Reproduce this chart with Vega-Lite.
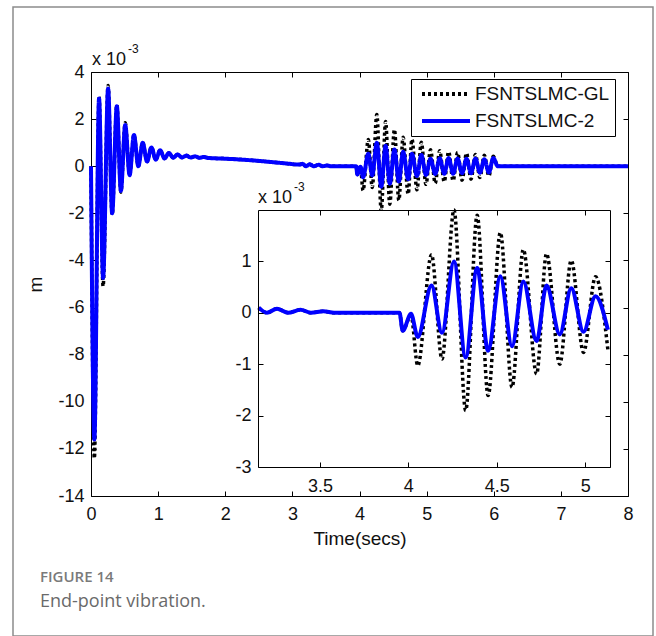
{
  "$schema": "https://vega.github.io/schema/vega-lite/v6.json",
  "width": 640,
  "height": 629,
  "autosize": {"type": "none"},
  "padding": {"left": 13, "top": 7, "right": 3, "bottom": 0},
  "background": "white",
  "config": {
    "view": {"stroke": "#8c8c8c", "strokeWidth": 1.5},
    "font": "Arial, Liberation Sans, sans-serif",
    "axis": {
      "grid": false,
      "domainColor": "#000000",
      "domainWidth": 1,
      "tickColor": "#000000",
      "tickWidth": 1,
      "tickSize": -5,
      "labelColor": "#111111",
      "labelFont": "Arial, Liberation Sans, sans-serif",
      "labelFontSize": 18,
      "labelFlush": false,
      "labelOverlap": false,
      "labelExpr": "'' + datum.value",
      "titleFont": "Arial, Liberation Sans, sans-serif",
      "titleFontSize": 19,
      "titleFontWeight": "normal",
      "titleColor": "#111111"
    },
    "legend": {
      "orient": "none",
      "legendX": 398,
      "legendY": 72,
      "title": null,
      "fillColor": "white",
      "strokeColor": "#000000",
      "padding": 5,
      "symbolType": "M-0.5,0H5.5",
      "symbolSize": 256,
      "symbolStrokeWidth": 4,
      "labelFont": "Arial, Liberation Sans, sans-serif",
      "labelFontSize": 19,
      "labelColor": "#111111",
      "labelOffset": 39,
      "rowPadding": 7
    }
  },
  "title": {
    "text": "FIGURE 14",
    "subtitle": "End-point vibration.",
    "orient": "bottom",
    "anchor": "start",
    "frame": "group",
    "offset": -66,
    "dx": 27,
    "font": "Open Sans",
    "fontSize": 15,
    "fontWeight": 600,
    "color": "#7a7a7a",
    "subtitleFont": "Open Sans",
    "subtitleFontSize": 18,
    "subtitleColor": "#6a6a6a",
    "subtitlePadding": 8
  },
  "data": {
    "values": [
      {"s": "FSNTSLMC-GL", "t": 0, "v": 0},
      {"s": "FSNTSLMC-GL", "t": 0.05, "v": -12.4},
      {"s": "FSNTSLMC-GL", "t": 0.12, "v": 2.95},
      {"s": "FSNTSLMC-GL", "t": 0.18, "v": -5.1},
      {"s": "FSNTSLMC-GL", "t": 0.255, "v": 3.43},
      {"s": "FSNTSLMC-GL", "t": 0.315, "v": -2.05},
      {"s": "FSNTSLMC-GL", "t": 0.385, "v": 2.6},
      {"s": "FSNTSLMC-GL", "t": 0.445, "v": -1.1},
      {"s": "FSNTSLMC-GL", "t": 0.51, "v": 1.85},
      {"s": "FSNTSLMC-GL", "t": 0.575, "v": -0.38},
      {"s": "FSNTSLMC-GL", "t": 0.64, "v": 1.33},
      {"s": "FSNTSLMC-GL", "t": 0.705, "v": 0.0},
      {"s": "FSNTSLMC-GL", "t": 0.77, "v": 1.0},
      {"s": "FSNTSLMC-GL", "t": 0.835, "v": 0.2},
      {"s": "FSNTSLMC-GL", "t": 0.9, "v": 0.8},
      {"s": "FSNTSLMC-GL", "t": 0.965, "v": 0.28},
      {"s": "FSNTSLMC-GL", "t": 1.03, "v": 0.68},
      {"s": "FSNTSLMC-GL", "t": 1.095, "v": 0.33},
      {"s": "FSNTSLMC-GL", "t": 1.16, "v": 0.56},
      {"s": "FSNTSLMC-GL", "t": 1.225, "v": 0.36},
      {"s": "FSNTSLMC-GL", "t": 1.29, "v": 0.5},
      {"s": "FSNTSLMC-GL", "t": 1.355, "v": 0.37},
      {"s": "FSNTSLMC-GL", "t": 1.42, "v": 0.45},
      {"s": "FSNTSLMC-GL", "t": 1.485, "v": 0.37},
      {"s": "FSNTSLMC-GL", "t": 1.55, "v": 0.42},
      {"s": "FSNTSLMC-GL", "t": 1.615, "v": 0.36},
      {"s": "FSNTSLMC-GL", "t": 1.68, "v": 0.39},
      {"s": "FSNTSLMC-GL", "t": 1.75, "v": 0.35},
      {"s": "FSNTSLMC-GL", "t": 2.0, "v": 0.32},
      {"s": "FSNTSLMC-GL", "t": 2.3, "v": 0.27},
      {"s": "FSNTSLMC-GL", "t": 2.6, "v": 0.2},
      {"s": "FSNTSLMC-GL", "t": 2.9, "v": 0.12},
      {"s": "FSNTSLMC-GL", "t": 3.1, "v": 0.07},
      {"s": "FSNTSLMC-GL", "t": 3.154, "v": 0.1},
      {"s": "FSNTSLMC-GL", "t": 3.2, "v": 0.0},
      {"s": "FSNTSLMC-GL", "t": 3.257, "v": 0.08},
      {"s": "FSNTSLMC-GL", "t": 3.32, "v": 0.0},
      {"s": "FSNTSLMC-GL", "t": 3.39, "v": 0.06},
      {"s": "FSNTSLMC-GL", "t": 3.45, "v": 0.0},
      {"s": "FSNTSLMC-GL", "t": 3.52, "v": 0.03},
      {"s": "FSNTSLMC-GL", "t": 3.58, "v": 0.0},
      {"s": "FSNTSLMC-GL", "t": 3.95, "v": 0.0},
      {"s": "FSNTSLMC-GL", "t": 3.968, "v": -0.35},
      {"s": "FSNTSLMC-GL", "t": 4.015, "v": -0.05},
      {"s": "FSNTSLMC-GL", "t": 4.053, "v": -1.03},
      {"s": "FSNTSLMC-GL", "t": 4.131, "v": 1.13},
      {"s": "FSNTSLMC-GL", "t": 4.19, "v": -0.9},
      {"s": "FSNTSLMC-GL", "t": 4.258, "v": 2.2},
      {"s": "FSNTSLMC-GL", "t": 4.324, "v": -1.9},
      {"s": "FSNTSLMC-GL", "t": 4.389, "v": 1.9},
      {"s": "FSNTSLMC-GL", "t": 4.451, "v": -1.61},
      {"s": "FSNTSLMC-GL", "t": 4.52, "v": 1.56},
      {"s": "FSNTSLMC-GL", "t": 4.586, "v": -1.45},
      {"s": "FSNTSLMC-GL", "t": 4.65, "v": 1.23},
      {"s": "FSNTSLMC-GL", "t": 4.725, "v": -1.19},
      {"s": "FSNTSLMC-GL", "t": 4.781, "v": 1.15},
      {"s": "FSNTSLMC-GL", "t": 4.856, "v": -1.0},
      {"s": "FSNTSLMC-GL", "t": 4.921, "v": 1.02},
      {"s": "FSNTSLMC-GL", "t": 4.99, "v": -0.77},
      {"s": "FSNTSLMC-GL", "t": 5.058, "v": 0.7},
      {"s": "FSNTSLMC-GL", "t": 5.128, "v": -0.72},
      {"s": "FSNTSLMC-GL", "t": 5.195, "v": 0.66},
      {"s": "FSNTSLMC-GL", "t": 5.262, "v": -0.66},
      {"s": "FSNTSLMC-GL", "t": 5.328, "v": 0.62},
      {"s": "FSNTSLMC-GL", "t": 5.395, "v": -0.62},
      {"s": "FSNTSLMC-GL", "t": 5.461, "v": 0.58},
      {"s": "FSNTSLMC-GL", "t": 5.528, "v": -0.6},
      {"s": "FSNTSLMC-GL", "t": 5.594, "v": 0.55},
      {"s": "FSNTSLMC-GL", "t": 5.661, "v": -0.55},
      {"s": "FSNTSLMC-GL", "t": 5.727, "v": 0.5},
      {"s": "FSNTSLMC-GL", "t": 5.794, "v": -0.48},
      {"s": "FSNTSLMC-GL", "t": 5.86, "v": 0.47},
      {"s": "FSNTSLMC-GL", "t": 5.927, "v": -0.42},
      {"s": "FSNTSLMC-GL", "t": 5.993, "v": 0.42},
      {"s": "FSNTSLMC-GL", "t": 6.06, "v": 0.0},
      {"s": "FSNTSLMC-GL", "t": 8.0, "v": 0.0},
      {"s": "FSNTSLMC-2", "t": 0, "v": 0},
      {"s": "FSNTSLMC-2", "t": 0.05, "v": -11.6},
      {"s": "FSNTSLMC-2", "t": 0.12, "v": 2.88},
      {"s": "FSNTSLMC-2", "t": 0.18, "v": -4.75},
      {"s": "FSNTSLMC-2", "t": 0.255, "v": 3.3},
      {"s": "FSNTSLMC-2", "t": 0.315, "v": -2.0},
      {"s": "FSNTSLMC-2", "t": 0.385, "v": 2.55},
      {"s": "FSNTSLMC-2", "t": 0.445, "v": -1.05},
      {"s": "FSNTSLMC-2", "t": 0.51, "v": 1.75},
      {"s": "FSNTSLMC-2", "t": 0.575, "v": -0.38},
      {"s": "FSNTSLMC-2", "t": 0.64, "v": 1.33},
      {"s": "FSNTSLMC-2", "t": 0.705, "v": 0.0},
      {"s": "FSNTSLMC-2", "t": 0.77, "v": 1.0},
      {"s": "FSNTSLMC-2", "t": 0.835, "v": 0.2},
      {"s": "FSNTSLMC-2", "t": 0.9, "v": 0.8},
      {"s": "FSNTSLMC-2", "t": 0.965, "v": 0.28},
      {"s": "FSNTSLMC-2", "t": 1.03, "v": 0.68},
      {"s": "FSNTSLMC-2", "t": 1.095, "v": 0.33},
      {"s": "FSNTSLMC-2", "t": 1.16, "v": 0.56},
      {"s": "FSNTSLMC-2", "t": 1.225, "v": 0.36},
      {"s": "FSNTSLMC-2", "t": 1.29, "v": 0.5},
      {"s": "FSNTSLMC-2", "t": 1.355, "v": 0.37},
      {"s": "FSNTSLMC-2", "t": 1.42, "v": 0.45},
      {"s": "FSNTSLMC-2", "t": 1.485, "v": 0.37},
      {"s": "FSNTSLMC-2", "t": 1.55, "v": 0.42},
      {"s": "FSNTSLMC-2", "t": 1.615, "v": 0.36},
      {"s": "FSNTSLMC-2", "t": 1.68, "v": 0.39},
      {"s": "FSNTSLMC-2", "t": 1.75, "v": 0.35},
      {"s": "FSNTSLMC-2", "t": 2.0, "v": 0.32},
      {"s": "FSNTSLMC-2", "t": 2.3, "v": 0.27},
      {"s": "FSNTSLMC-2", "t": 2.6, "v": 0.2},
      {"s": "FSNTSLMC-2", "t": 2.9, "v": 0.12},
      {"s": "FSNTSLMC-2", "t": 3.1, "v": 0.07},
      {"s": "FSNTSLMC-2", "t": 3.154, "v": 0.1},
      {"s": "FSNTSLMC-2", "t": 3.2, "v": 0.0},
      {"s": "FSNTSLMC-2", "t": 3.257, "v": 0.08},
      {"s": "FSNTSLMC-2", "t": 3.32, "v": 0.0},
      {"s": "FSNTSLMC-2", "t": 3.39, "v": 0.06},
      {"s": "FSNTSLMC-2", "t": 3.45, "v": 0.0},
      {"s": "FSNTSLMC-2", "t": 3.52, "v": 0.03},
      {"s": "FSNTSLMC-2", "t": 3.58, "v": 0.0},
      {"s": "FSNTSLMC-2", "t": 3.95, "v": 0.0},
      {"s": "FSNTSLMC-2", "t": 3.968, "v": -0.35},
      {"s": "FSNTSLMC-2", "t": 4.015, "v": -0.02},
      {"s": "FSNTSLMC-2", "t": 4.053, "v": -0.47},
      {"s": "FSNTSLMC-2", "t": 4.131, "v": 0.53},
      {"s": "FSNTSLMC-2", "t": 4.19, "v": -0.39},
      {"s": "FSNTSLMC-2", "t": 4.258, "v": 1.0},
      {"s": "FSNTSLMC-2", "t": 4.324, "v": -0.87},
      {"s": "FSNTSLMC-2", "t": 4.389, "v": 0.87},
      {"s": "FSNTSLMC-2", "t": 4.451, "v": -0.74},
      {"s": "FSNTSLMC-2", "t": 4.52, "v": 0.71},
      {"s": "FSNTSLMC-2", "t": 4.586, "v": -0.65},
      {"s": "FSNTSLMC-2", "t": 4.65, "v": 0.61},
      {"s": "FSNTSLMC-2", "t": 4.725, "v": -0.55},
      {"s": "FSNTSLMC-2", "t": 4.781, "v": 0.53},
      {"s": "FSNTSLMC-2", "t": 4.856, "v": -0.42},
      {"s": "FSNTSLMC-2", "t": 4.921, "v": 0.48},
      {"s": "FSNTSLMC-2", "t": 4.99, "v": -0.37},
      {"s": "FSNTSLMC-2", "t": 5.058, "v": 0.32},
      {"s": "FSNTSLMC-2", "t": 5.128, "v": -0.33},
      {"s": "FSNTSLMC-2", "t": 5.195, "v": 0.34},
      {"s": "FSNTSLMC-2", "t": 5.262, "v": -0.32},
      {"s": "FSNTSLMC-2", "t": 5.328, "v": 0.35},
      {"s": "FSNTSLMC-2", "t": 5.395, "v": -0.32},
      {"s": "FSNTSLMC-2", "t": 5.461, "v": 0.33},
      {"s": "FSNTSLMC-2", "t": 5.528, "v": -0.3},
      {"s": "FSNTSLMC-2", "t": 5.594, "v": 0.32},
      {"s": "FSNTSLMC-2", "t": 5.661, "v": -0.3},
      {"s": "FSNTSLMC-2", "t": 5.727, "v": 0.33},
      {"s": "FSNTSLMC-2", "t": 5.794, "v": -0.28},
      {"s": "FSNTSLMC-2", "t": 5.86, "v": 0.3},
      {"s": "FSNTSLMC-2", "t": 5.927, "v": -0.27},
      {"s": "FSNTSLMC-2", "t": 5.993, "v": 0.35},
      {"s": "FSNTSLMC-2", "t": 6.06, "v": 0.0},
      {"s": "FSNTSLMC-2", "t": 8.0, "v": 0.0}
    ]
  },
  "layer": [
    {
      "layer": [
        {
          "transform": [{"filter": {"field": "s", "equal": "FSNTSLMC-GL"}}],
          "mark": {"type": "line", "interpolate": "monotone", "strokeWidth": 3.5},
          "encoding": {
            "x": {"field": "t", "type": "quantitative",
              "scale": {"domain": [0, 8], "range": [78, 615], "nice": false, "zero": false},
              "axis": {"orient": "bottom", "offset": -140, "values": [0, 1, 2, 3, 4, 5, 6, 7, 8], "labelPadding": 14, "title": "Time(secs)", "titlePadding": 6}},
            "y": {"field": "v", "type": "quantitative",
              "scale": {"domain": [-14, 4], "range": [489, 65], "nice": false, "zero": false},
              "axis": {"orient": "left", "offset": -78, "values": [-14, -12, -10, -8, -6, -4, -2, 0, 2, 4], "labelPadding": 12, "title": "m", "titlePadding": 12}},
            "color": {"field": "s", "type": "nominal",
              "scale": {"domain": ["FSNTSLMC-GL", "FSNTSLMC-2"], "range": ["#000000", "#0000ff"]}},
            "strokeDash": {"field": "s", "type": "nominal",
              "scale": {"domain": ["FSNTSLMC-GL", "FSNTSLMC-2"], "range": [[3, 3], [1, 0]]}}
          }
        },
        {
          "transform": [{"filter": {"field": "s", "equal": "FSNTSLMC-2"}}],
          "mark": {"type": "line", "interpolate": "monotone", "strokeWidth": 4},
          "encoding": {
            "x": {"field": "t", "type": "quantitative"},
            "y": {"field": "v", "type": "quantitative"},
            "color": {"field": "s", "type": "nominal"},
            "strokeDash": {"field": "s", "type": "nominal"}
          }
        },
        {
          "data": {"values": [{"label": "x 10"}]},
          "mark": {"type": "text", "align": "left", "baseline": "alphabetic", "dx": 1, "dy": -7, "fontSize": 18, "color": "#111111", "font": "Arial, Liberation Sans, sans-serif"},
          "encoding": {
            "x": {"datum": 0, "type": "quantitative"},
            "y": {"datum": 4, "type": "quantitative"},
            "text": {"field": "label"}
          }
        },
        {
          "data": {"values": [{"label": "-3"}]},
          "mark": {"type": "text", "align": "left", "baseline": "alphabetic", "dx": 37, "dy": -19, "fontSize": 12, "color": "#111111", "font": "Arial, Liberation Sans, sans-serif"},
          "encoding": {
            "x": {"datum": 0, "type": "quantitative"},
            "y": {"datum": 4, "type": "quantitative"},
            "text": {"field": "label"}
          }
        }
      ]
    },
    {
      "mark": {"type": "point", "opacity": 0},
      "encoding": {
        "x": {"field": "t", "type": "quantitative",
          "scale": {"domain": [0, 8], "range": [78, 615], "nice": false, "zero": false},
          "axis": {"orient": "top", "offset": -65, "values": [0, 1, 2, 3, 4, 5, 6, 7, 8], "labels": false, "title": null}},
        "y": {"field": "v", "type": "quantitative",
          "scale": {"domain": [-14, 4], "range": [489, 65], "nice": false, "zero": false},
          "axis": {"orient": "right", "offset": -25, "values": [-14, -12, -10, -8, -6, -4, -2, 0, 2, 4], "labels": false, "title": null}}
      }
    },
    {
      "layer": [
        {
          "data": {"values": [{"x1": 3.15, "x2": 5.14, "y1": -3, "y2": 2}]},
          "mark": {"type": "rect", "color": "white"},
          "encoding": {
            "x": {"field": "x1", "type": "quantitative",
              "scale": {"domain": [3.15, 5.14], "range": [245, 597], "nice": false, "zero": false, "clamp": true},
              "axis": {"orient": "bottom", "offset": -169, "values": [3.5, 4, 4.5, 5], "labelPadding": 15, "title": null, "zindex": 1}},
            "x2": {"field": "x2"},
            "y": {"field": "y1", "type": "quantitative",
              "scale": {"domain": [-3, 2], "range": [460, 203], "nice": false, "zero": false, "clamp": true},
              "axis": {"orient": "left", "offset": -245, "values": [-3, -2, -1, 0, 1], "labelPadding": 12, "title": null, "zindex": 1}},
            "y2": {"field": "y2"}
          }
        },
        {
          "transform": [{"filter": {"field": "s", "equal": "FSNTSLMC-GL"}}, {"filter": {"field": "t", "range": [3.15, 5.14]}}],
          "mark": {"type": "line", "interpolate": "monotone", "strokeWidth": 3.5, "color": "#000000", "strokeDash": [3, 3]},
          "encoding": {
            "x": {"field": "t", "type": "quantitative"},
            "y": {"field": "v", "type": "quantitative"}
          }
        },
        {
          "transform": [{"filter": {"field": "s", "equal": "FSNTSLMC-2"}}, {"filter": {"field": "t", "range": [3.15, 5.14]}}],
          "mark": {"type": "line", "interpolate": "monotone", "strokeWidth": 4, "color": "#0000ff"},
          "encoding": {
            "x": {"field": "t", "type": "quantitative"},
            "y": {"field": "v", "type": "quantitative"}
          }
        },
        {
          "data": {"values": [{"label": "x 10"}]},
          "mark": {"type": "text", "align": "left", "baseline": "alphabetic", "dx": 0, "dy": -7, "fontSize": 18, "color": "#111111", "font": "Arial, Liberation Sans, sans-serif"},
          "encoding": {
            "x": {"datum": 3.15, "type": "quantitative"},
            "y": {"datum": 2, "type": "quantitative"},
            "text": {"field": "label"}
          }
        },
        {
          "data": {"values": [{"label": "-3"}]},
          "mark": {"type": "text", "align": "left", "baseline": "alphabetic", "dx": 36, "dy": -19, "fontSize": 12, "color": "#111111", "font": "Arial, Liberation Sans, sans-serif"},
          "encoding": {
            "x": {"datum": 3.15, "type": "quantitative"},
            "y": {"datum": 2, "type": "quantitative"},
            "text": {"field": "label"}
          }
        }
      ]
    },
    {
      "data": {"values": [{"x1": 3.15, "y1": -3}]},
      "mark": {"type": "point", "opacity": 0},
      "encoding": {
        "x": {"field": "x1", "type": "quantitative",
          "scale": {"domain": [3.15, 5.14], "range": [245, 597], "nice": false, "zero": false},
          "axis": {"orient": "top", "offset": -203, "values": [3.5, 4, 4.5, 5], "labels": false, "title": null, "zindex": 1}},
        "y": {"field": "y1", "type": "quantitative",
          "scale": {"domain": [-3, 2], "range": [460, 203], "nice": false, "zero": false},
          "axis": {"orient": "right", "offset": -43, "values": [-3, -2, -1, 0, 1], "labels": false, "title": null, "zindex": 1}}
      }
    }
  ],
  "resolve": {"scale": {"x": "independent", "y": "independent"}}
}
